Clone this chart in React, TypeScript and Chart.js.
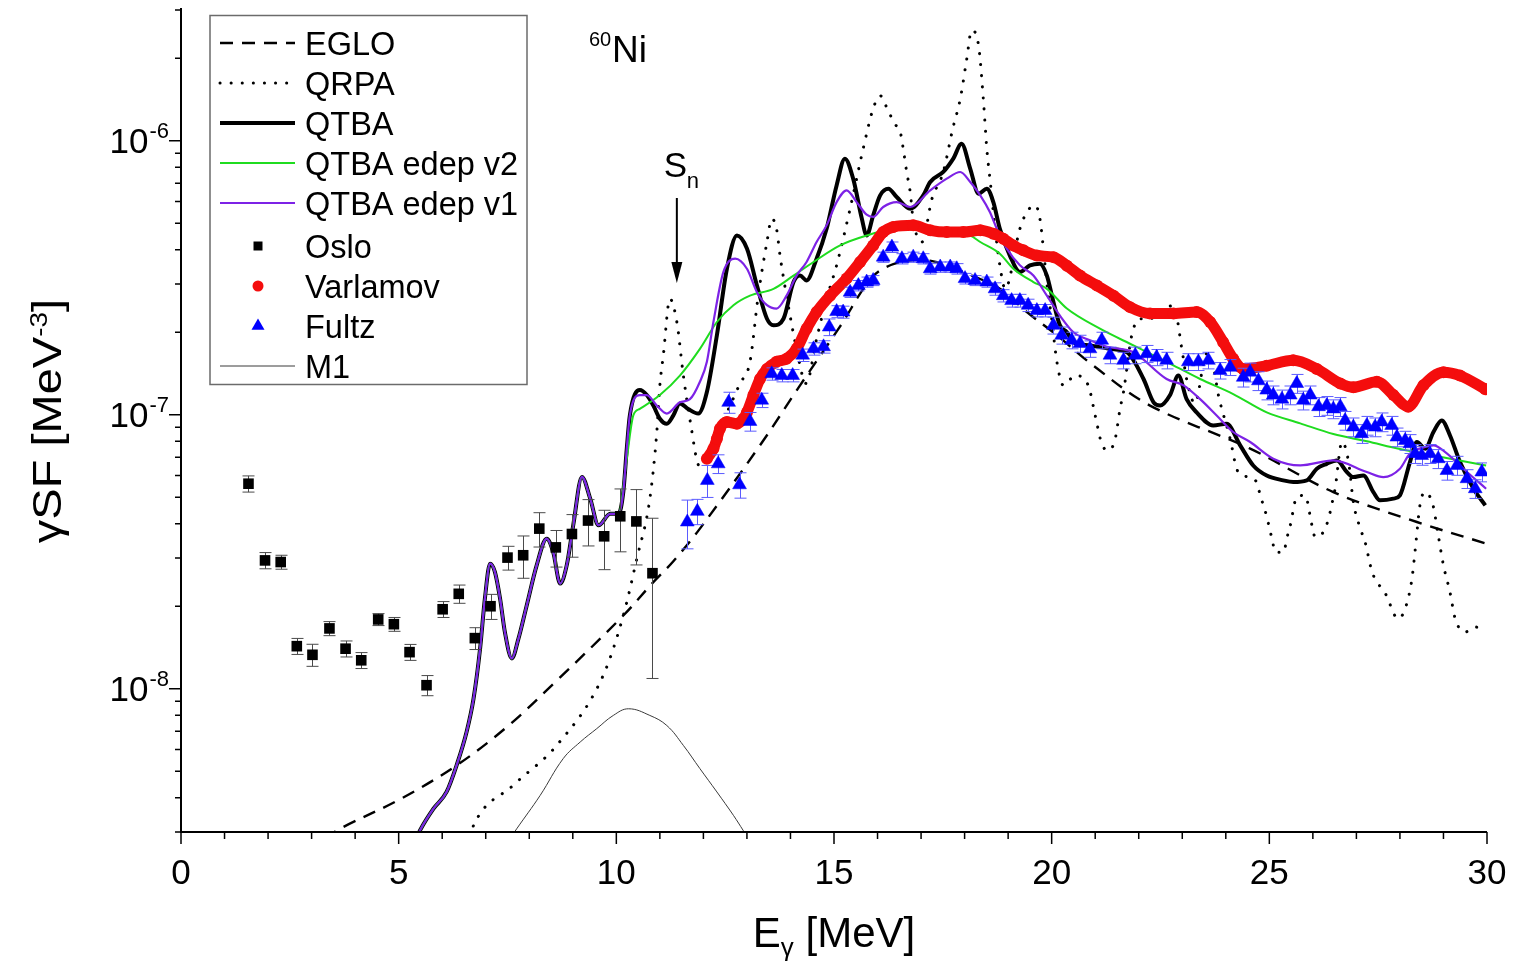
import React, { useEffect, useRef } from "react";
import { Chart, registerables } from "chart.js";

Chart.register(...registerables);

const FONT = '"Liberation Sans", Arial, Helvetica, sans-serif';

// ---------------- data (E in MeV, gamma strength in MeV^-3) ----------------
// shared low-energy part of the three QTBA curves
const lowE = [5.35, 5.49, 5.8, 6.1, 6.33, 6.56, 6.72, 6.87, 6.98, 7.1, 7.21, 7.33, 7.44, 7.6, 7.75, 7.94, 8.17, 8.4, 8.55, 8.71, 8.86, 9.01, 9.21, 9.4, 9.59, 9.86, 10.05];
const lowY = [2.72e-9, 3.04e-9, 3.65e-9, 4.2e-9, 5.25e-9, 6.95e-9, 9.2e-9, 1.4e-8, 2.13e-8, 2.86e-8, 2.67e-8, 2.13e-8, 1.61e-8, 1.29e-8, 1.52e-8, 2.01e-8, 2.82e-8, 3.53e-8, 3.15e-8, 2.42e-8, 2.82e-8, 3.95e-8, 5.93e-8, 4.94e-8, 3.95e-8, 4.35e-8, 4.35e-8];

const qtbaE = [10.16, 10.24, 10.31, 10.54, 10.7, 10.85, 11.0, 11.16, 11.31, 11.46, 11.65, 11.88, 12.08, 12.31, 12.54, 12.77, 13.0, 13.23, 13.46, 13.61, 13.84, 14.07, 14.22, 14.37, 14.6, 14.83, 15.06, 15.25, 15.44, 15.64, 15.75, 15.9, 16.06, 16.25, 16.44, 16.75, 17.05, 17.21, 17.51, 17.74, 17.93, 18.13, 18.32, 18.51, 18.66, 18.81, 19.04, 19.27, 19.5, 19.73, 19.89, 20.04, 20.19, 20.35, 20.5, 20.88, 21.34, 21.73, 22.11, 22.34, 22.49, 22.72, 22.91, 23.1, 23.33, 23.71, 24.02, 24.33, 24.63, 24.94, 25.32, 25.55, 25.86, 26.09, 26.32, 26.55, 26.78, 26.93, 27.16, 27.39, 27.54, 27.85, 28.0, 28.23, 28.39, 28.58, 28.77, 28.96, 29.15, 29.38, 29.69, 29.96];
const qtbaY = [5.22e-8, 7.52e-8, 9.94e-8, 1.23e-7, 1.18e-7, 1.08e-7, 9.67e-8, 9.27e-8, 9.94e-8, 1.1e-7, 1.05e-7, 1.01e-7, 1.21e-7, 1.95e-7, 3.41e-7, 4.51e-7, 4.04e-7, 2.96e-7, 2.24e-7, 2.12e-7, 2.24e-7, 3.05e-7, 3.22e-7, 3.09e-7, 3.71e-7, 4.77e-7, 6.87e-7, 8.6e-7, 7.27e-7, 5.19e-7, 4.51e-7, 5.34e-7, 6.32e-7, 6.68e-7, 6.23e-7, 5.65e-7, 6.32e-7, 7.07e-7, 7.69e-7, 8.6e-7, 9.75e-7, 7.9e-7, 6.41e-7, 6.68e-7, 5.97e-7, 4.77e-7, 3.81e-7, 3.32e-7, 3.51e-7, 3.56e-7, 3.22e-7, 2.58e-7, 2.12e-7, 2.0e-7, 1.84e-7, 1.79e-7, 1.74e-7, 1.69e-7, 1.35e-7, 1.11e-7, 1.08e-7, 1.18e-7, 1.39e-7, 1.14e-7, 1.02e-7, 9.14e-8, 9.27e-8, 7.73e-8, 6.53e-8, 6.0e-8, 5.76e-8, 5.68e-8, 5.76e-8, 6.35e-8, 6.62e-8, 6.81e-8, 6.18e-8, 5.92e-8, 6.0e-8, 5.22e-8, 4.87e-8, 4.94e-8, 5.08e-8, 6.72e-8, 7.95e-8, 7.52e-8, 8.65e-8, 9.53e-8, 8.4e-8, 6.72e-8, 5.37e-8, 4.67e-8];

const v1E = [10.16, 10.24, 10.31, 10.54, 10.7, 10.93, 11.16, 11.46, 11.69, 11.92, 12.08, 12.23, 12.46, 12.73, 13.0, 13.23, 13.46, 13.68, 13.91, 14.14, 14.37, 14.6, 14.83, 15.06, 15.29, 15.52, 15.75, 15.9, 16.13, 16.44, 16.75, 17.21, 17.59, 17.9, 18.13, 18.36, 18.58, 18.74, 18.97, 19.27, 19.58, 19.89, 20.19, 20.5, 20.88, 21.27, 21.57, 21.88, 22.64, 23.03, 23.41, 23.79, 24.17, 24.56, 25.09, 25.71, 26.47, 27.24, 27.62, 28.0, 28.23, 28.58, 28.77, 29.04, 29.54, 29.98];
const v1Y = [5.22e-8, 7.52e-8, 9.94e-8, 1.18e-7, 1.18e-7, 1.08e-7, 1.01e-7, 1.11e-7, 1.14e-7, 1.32e-7, 1.56e-7, 2.18e-7, 3.32e-7, 3.71e-7, 3.41e-7, 2.8e-7, 2.51e-7, 2.44e-7, 2.72e-7, 3.22e-7, 3.61e-7, 4.27e-7, 4.91e-7, 5.97e-7, 6.59e-7, 5.97e-7, 5.37e-7, 5.27e-7, 5.73e-7, 5.97e-7, 5.73e-7, 6.59e-7, 7.27e-7, 7.69e-7, 7.07e-7, 6.32e-7, 5.49e-7, 4.77e-7, 4.04e-7, 3.51e-7, 3.22e-7, 2.72e-7, 2.3e-7, 2.0e-7, 1.87e-7, 1.77e-7, 1.74e-7, 1.69e-7, 1.35e-7, 1.28e-7, 1.14e-7, 9.94e-8, 8.65e-8, 7.95e-8, 6.91e-8, 6.53e-8, 6.81e-8, 6.18e-8, 5.92e-8, 6.35e-8, 7.21e-8, 7.62e-8, 7.73e-8, 7.31e-8, 6.18e-8, 5.37e-8];

const v2E = [10.24, 10.39, 10.54, 11.0, 11.46, 11.92, 12.31, 12.69, 13.07, 13.61, 14.07, 14.53, 15.14, 15.75, 16.29, 16.98, 17.55, 18.13, 18.36, 18.81, 19.12, 19.58, 19.89, 20.35, 21.11, 21.88, 22.64, 23.41, 24.17, 24.94, 25.71, 26.47, 27.24, 28.0, 28.77, 29.98];
const v2Y = [6.91e-8, 9.94e-8, 1.05e-7, 1.18e-7, 1.39e-7, 1.74e-7, 2.18e-7, 2.51e-7, 2.72e-7, 2.88e-7, 3.22e-7, 3.61e-7, 4.15e-7, 4.51e-7, 4.73e-7, 4.77e-7, 4.66e-7, 4.51e-7, 4.27e-7, 3.87e-7, 3.41e-7, 3.05e-7, 2.88e-7, 2.44e-7, 2.06e-7, 1.79e-7, 1.56e-7, 1.35e-7, 1.19e-7, 1.02e-7, 9.3e-8, 8.5e-8, 8.0e-8, 7.5e-8, 7.1e-8, 6.53e-8];

const egloE = [3.3, 3.73, 5.03, 6.33, 7.49, 8.63, 10.16, 10.85, 11.31, 11.92, 13.3, 14.22, 15.14, 15.9, 16.5, 17.2, 18.0, 18.81, 19.43, 20.12, 20.96, 22.26, 24.56, 26.47, 28.39, 30.0];
const egloY = [2.85e-9, 3.13e-9, 3.95e-9, 5.25e-9, 7.26e-9, 1.07e-8, 1.85e-8, 2.45e-8, 2.92e-8, 3.84e-8, 7.73e-8, 1.28e-7, 2.1e-7, 3.2e-7, 3.6e-7, 3.65e-7, 3.3e-7, 2.88e-7, 2.37e-7, 1.95e-7, 1.51e-7, 1.08e-7, 7.52e-8, 5.22e-8, 4.06e-8, 3.38e-8];

const qrpaE = [6.64, 6.72, 7.63, 8.63, 9.7, 10.16, 10.47, 10.77, 10.93, 11.0, 11.08, 11.23, 11.39, 11.54, 11.7, 11.91, 12.23, 12.54, 12.84, 13.07, 13.26, 13.46, 13.57, 13.68, 13.76, 13.91, 14.14, 14.36, 14.6, 14.83, 15.06, 15.37, 15.67, 15.9, 16.06, 16.24, 16.4, 16.52, 16.59, 16.67, 16.75, 16.82, 17.02, 17.25, 17.51, 17.73, 17.9, 18.05, 18.16, 18.32, 18.43, 18.51, 18.59, 18.7, 18.81, 18.93, 19.27, 19.43, 19.62, 19.73, 19.81, 19.89, 20.0, 20.12, 20.27, 20.54, 20.84, 21.0, 21.15, 21.3, 21.46, 21.57, 21.65, 21.84, 22.03, 22.26, 22.56, 22.8, 22.99, 23.1, 23.29, 23.56, 23.71, 23.83, 24.1, 24.25, 24.4, 24.71, 24.79, 24.9, 24.98, 25.06, 25.14, 25.33, 25.4, 25.48, 25.63, 25.82, 25.98, 26.05, 26.24, 26.36, 26.43, 26.51, 26.67, 26.82, 26.93, 27.09, 27.2, 27.36, 27.67, 27.96, 28.12, 28.27, 28.35, 28.46, 28.57, 28.76, 28.88, 29.0, 29.15, 29.27, 29.5, 29.73, 29.96];
const qrpaY = [2.88e-9, 3.17e-9, 4.44e-9, 6.21e-9, 1.12e-8, 1.85e-8, 2.98e-8, 4.94e-8, 8.65e-8, 1.28e-7, 1.65e-7, 2.65e-7, 2.18e-7, 1.39e-7, 9.41e-8, 6.5e-8, 8.17e-8, 1.02e-7, 1.3e-7, 1.56e-7, 2.72e-7, 4.27e-7, 5.19e-7, 4.77e-7, 3.81e-7, 2.72e-7, 1.74e-7, 1.3e-7, 1.89e-7, 2.65e-7, 3.51e-7, 5.65e-7, 9.35e-7, 1.31e-6, 1.46e-6, 1.29e-6, 1.15e-6, 1.08e-6, 9.35e-7, 7.69e-7, 6.5e-7, 5.12e-7, 4.27e-7, 6.14e-7, 7.69e-7, 1.11e-6, 1.42e-6, 1.99e-6, 2.53e-6, 2.23e-6, 1.42e-6, 9.35e-7, 7.07e-7, 4.77e-7, 3.51e-7, 2.88e-7, 4.77e-7, 5.49e-7, 5.81e-7, 5.19e-7, 4.04e-7, 3.01e-7, 2.24e-7, 1.56e-7, 1.28e-7, 1.39e-7, 1.28e-7, 9.94e-8, 7.84e-8, 7.41e-8, 8.17e-8, 1.05e-7, 1.21e-7, 1.95e-7, 2.24e-7, 2.24e-7, 2.44e-7, 2.5e-7, 1.74e-7, 1.35e-7, 1.1e-7, 1.67e-7, 1.51e-7, 1.18e-7, 8.17e-8, 6.35e-8, 6.0e-8, 5.68e-8, 5.08e-8, 4.48e-8, 4.0e-8, 3.53e-8, 3.15e-8, 3.15e-8, 3.53e-8, 3.94e-8, 5.01e-8, 5.08e-8, 3.94e-8, 3.58e-8, 3.73e-8, 4.17e-8, 4.67e-8, 5.37e-8, 7.97e-8, 6.72e-8, 4.8e-8, 3.84e-8, 3.43e-8, 2.67e-8, 2.22e-8, 1.8e-8, 1.96e-8, 2.48e-8, 3.2e-8, 4.67e-8, 5.22e-8, 4.67e-8, 3.63e-8, 2.82e-8, 2.25e-8, 1.8e-8, 1.61e-8, 1.68e-8, 1.63e-8];

const m1E = [7.6, 7.71, 8.25, 8.78, 9.17, 9.55, 9.93, 10.28, 10.77, 11.16, 11.54, 11.92, 12.31, 12.69, 12.92, 13.0];
const m1Y = [2.9e-9, 3.08e-9, 4.08e-9, 5.56e-9, 6.39e-9, 7.15e-9, 7.99e-9, 8.45e-9, 7.99e-9, 7.34e-9, 6.21e-9, 5.11e-9, 4.2e-9, 3.45e-9, 3.03e-9, 2.9e-9];

const osloE = [1.55, 1.93, 2.29, 2.66, 3.02, 3.41, 3.78, 4.14, 4.53, 4.89, 5.25, 5.64, 6.01, 6.38, 6.75, 7.11, 7.5, 7.86, 8.23, 8.61, 8.98, 9.35, 9.72, 10.09, 10.46, 10.83];
const osloY = [5.6e-8, 2.94e-8, 2.9e-8, 1.43e-8, 1.33e-8, 1.66e-8, 1.4e-8, 1.27e-8, 1.79e-8, 1.72e-8, 1.36e-8, 1.03e-8, 1.95e-8, 2.22e-8, 1.53e-8, 2.0e-8, 3.01e-8, 3.07e-8, 3.84e-8, 3.28e-8, 3.67e-8, 4.11e-8, 3.6e-8, 4.26e-8, 4.08e-8, 2.64e-8];
const osloErr = [3.8e-9, 2.0e-9, 1.7e-9, 9.6e-10, 1.23e-9, 9.8e-10, 9.4e-10, 8.5e-10, 9.0e-10, 1.0e-9, 9.1e-10, 8.7e-10, 1.3e-9, 1.7e-9, 1.4e-9, 2.1e-9, 3.0e-9, 5.4e-9, 5.5e-9, 5.0e-9, 6.5e-9, 7.9e-9, 8.8e-9, 1.1e-8, 1.25e-8, 1.55e-8];

const varE = [12.08, 12.23, 12.31, 12.38, 12.54, 12.77, 12.92, 13.0, 13.15, 13.3, 13.46, 13.68, 13.91, 14.14, 14.37, 14.6, 14.91, 15.29, 15.6, 15.9, 16.13, 16.36, 16.82, 17.21, 17.59, 17.97, 18.36, 18.66, 18.89, 19.12, 19.35, 19.66, 20.04, 20.35, 20.65, 21.04, 21.42, 21.8, 22.26, 22.8, 23.33, 23.64, 23.94, 24.17, 24.4, 24.94, 25.55, 26.09, 26.63, 26.93, 27.47, 27.85, 28.19, 28.54, 29.0, 29.38, 29.96];
const varY = [6.91e-8, 7.52e-8, 8.17e-8, 8.89e-8, 9.41e-8, 9.27e-8, 9.67e-8, 1.02e-7, 1.18e-7, 1.35e-7, 1.47e-7, 1.56e-7, 1.6e-7, 1.74e-7, 2.06e-7, 2.37e-7, 2.72e-7, 3.14e-7, 3.61e-7, 4.15e-7, 4.64e-7, 4.84e-7, 4.91e-7, 4.71e-7, 4.64e-7, 4.64e-7, 4.71e-7, 4.58e-7, 4.39e-7, 4.15e-7, 3.98e-7, 3.81e-7, 3.76e-7, 3.5e-7, 3.22e-7, 2.96e-7, 2.72e-7, 2.47e-7, 2.34e-7, 2.34e-7, 2.37e-7, 2.18e-7, 1.84e-7, 1.6e-7, 1.47e-7, 1.51e-7, 1.58e-7, 1.47e-7, 1.3e-7, 1.26e-7, 1.32e-7, 1.18e-7, 1.07e-7, 1.28e-7, 1.43e-7, 1.39e-7, 1.24e-7];

const fultzE = [11.63, 11.86, 12.09, 12.34, 12.58, 12.83, 13.07, 13.34, 13.57, 13.8, 14.05, 14.28, 14.53, 14.76, 14.89, 15.06, 15.21, 15.37, 15.56, 15.75, 15.9, 16.13, 16.33, 16.56, 16.82, 17.05, 17.21, 17.44, 17.67, 17.82, 18.01, 18.24, 18.51, 18.7, 18.89, 19.08, 19.27, 19.46, 19.66, 19.85, 20.04, 20.23, 20.46, 20.65, 20.88, 21.15, 21.34, 21.65, 21.92, 22.18, 22.41, 22.64, 23.14, 23.37, 23.6, 23.87, 24.1, 24.4, 24.56, 24.75, 24.94, 25.09, 25.29, 25.48, 25.63, 25.78, 25.94, 26.13, 26.32, 26.47, 26.63, 26.74, 26.93, 27.12, 27.24, 27.43, 27.58, 27.81, 27.93, 28.12, 28.23, 28.35, 28.5, 28.69, 28.88, 29.08, 29.31, 29.54, 29.73, 29.88];
const fultzY = [4.06e-8, 4.44e-8, 5.76e-8, 6.62e-8, 1.11e-7, 5.55e-8, 9.45e-8, 1.13e-7, 1.41e-7, 1.39e-7, 1.39e-7, 1.65e-7, 1.74e-7, 1.77e-7, 2.09e-7, 2.38e-7, 2.37e-7, 2.8e-7, 2.96e-7, 3.05e-7, 3.09e-7, 3.76e-7, 4.09e-7, 3.71e-7, 3.76e-7, 3.71e-7, 3.41e-7, 3.46e-7, 3.46e-7, 3.41e-7, 3.14e-7, 3.09e-7, 3.05e-7, 2.88e-7, 2.72e-7, 2.61e-7, 2.61e-7, 2.51e-7, 2.4e-7, 2.4e-7, 2.12e-7, 1.95e-7, 1.87e-7, 1.82e-7, 1.74e-7, 1.87e-7, 1.65e-7, 1.58e-7, 1.65e-7, 1.67e-7, 1.62e-7, 1.58e-7, 1.56e-7, 1.56e-7, 1.58e-7, 1.45e-7, 1.49e-7, 1.37e-7, 1.43e-7, 1.33e-7, 1.23e-7, 1.18e-7, 1.14e-7, 1.18e-7, 1.3e-7, 1.13e-7, 1.18e-7, 1.07e-7, 1.08e-7, 1.05e-7, 1.07e-7, 9.53e-8, 9.02e-8, 8.53e-8, 9.14e-8, 9.02e-8, 9.41e-8, 9.14e-8, 8.29e-8, 8.06e-8, 7.84e-8, 7.21e-8, 7.1e-8, 7.21e-8, 6.91e-8, 6.26e-8, 6.53e-8, 5.84e-8, 5.37e-8, 6.18e-8];
const fultzErr = [8.2e-9, 4.7e-9, 7.7e-9, 5.2e-9, 9.8e-9, 5.9e-9, 7.4e-9, 6.8e-9, 7.3e-9, 7.2e-9, 7.2e-9, 8.6e-9, 9.0e-9, 9.2e-9, 1.46e-8, 1.2e-8, 1.2e-8, 1.2e-8, 1.3e-8, 1.3e-8, 1.3e-8, 1.6e-8, 1.8e-8, 1.6e-8, 1.6e-8, 1.6e-8, 1.5e-8, 1.5e-8, 1.5e-8, 1.5e-8, 1.4e-8, 1.3e-8, 1.3e-8, 1.5e-8, 1.4e-8, 1.4e-8, 1.4e-8, 1.3e-8, 1.25e-8, 1.25e-8, 1.5e-8, 1.4e-8, 1.3e-8, 1.3e-8, 1.2e-8, 1.3e-8, 1.15e-8, 1.1e-8, 1.15e-8, 1.2e-8, 1.1e-8, 1.1e-8, 1.1e-8, 1.1e-8, 1.1e-8, 1.0e-8, 1.0e-8, 1.08e-8, 1.13e-8, 1.05e-8, 9.7e-9, 9.3e-9, 9.0e-9, 9.3e-9, 1.03e-8, 8.9e-9, 9.3e-9, 8.5e-9, 8.5e-9, 8.3e-9, 8.5e-9, 7.5e-9, 7.1e-9, 6.7e-9, 7.2e-9, 7.1e-9, 7.4e-9, 7.2e-9, 6.5e-9, 6.4e-9, 6.2e-9, 5.7e-9, 5.6e-9, 5.7e-9, 5.5e-9, 4.9e-9, 5.2e-9, 4.6e-9, 4.2e-9, 4.9e-9];

// axis ticks / labels
const xMajorTicks = [0, 5, 10, 15, 20, 25, 30];
const xTickLabels = ["0", "5", "10", "15", "20", "25", "30"];
const xMinorTicks = [1, 2, 3, 4, 6, 7, 8, 9, 11, 12, 13, 14, 16, 17, 18, 19, 21, 22, 23, 24, 26, 27, 28, 29];
const yMajorTicks = [1e-8, 1e-7, 1e-6];
const yTickExponents = ["-8", "-7", "-6"];
const yMinorTicks = [3e-9, 4e-9, 5e-9, 6e-9, 7e-9, 8e-9, 9e-9, 2e-8, 3e-8, 4e-8, 5e-8, 6e-8, 7e-8, 8e-8, 9e-8, 2e-7, 3e-7, 4e-7, 5e-7, 6e-7, 7e-7, 8e-7, 9e-7, 2e-6, 3e-6];
const snEnergy = 11.39;

const GREEN = "#1fdc1f";
const PURPLE = "#7d22e6";
const RED = "#f40d0d";
const BLUE = "#0000ff";

const pts = (xs: number[], ys: number[]) => xs.map((x, i) => ({ x, y: ys[i] }));

const errorBarPlugin = {
  id: "errorBars",
  beforeDatasetDraw(chart: any, args: any) {
    const ds = chart.data.datasets[args.index];
    if (!ds.errY) return;
    const { ctx, chartArea: a } = chart;
    const xs = chart.scales.x;
    const ys = chart.scales.y;
    ctx.save();
    ctx.beginPath();
    ctx.rect(a.left, a.top, a.right - a.left, a.bottom - a.top);
    ctx.clip();
    ctx.strokeStyle = ds.errColor;
    ctx.lineWidth = 1;
    ctx.beginPath();
    ds.data.forEach((p: any, i: number) => {
      const e = ds.errY[i];
      const px = Math.round(xs.getPixelForValue(p.x)) + 0.5;
      const top = ys.getPixelForValue(p.y + e);
      const bot = ys.getPixelForValue(Math.max(p.y - e, 1e-12));
      ctx.moveTo(px, top);
      ctx.lineTo(px, bot);
      ctx.moveTo(px - ds.capHalf, top);
      ctx.lineTo(px + ds.capHalf, top);
      ctx.moveTo(px - ds.capHalf, bot);
      ctx.lineTo(px + ds.capHalf, bot);
    });
    ctx.stroke();
    ctx.restore();
  },
};

function drawMarker(ctx: CanvasRenderingContext2D, style: string, x: number, y: number, s: number, color: string) {
  ctx.fillStyle = color;
  ctx.beginPath();
  if (style === "rect") {
    ctx.rect(x - s / 2, y - s / 2, s, s);
  } else if (style === "circle") {
    ctx.arc(x, y, s / 2, 0, Math.PI * 2);
  } else {
    const r = s / Math.sqrt(3);
    ctx.moveTo(x, y - r);
    ctx.lineTo(x + s / 2, y + r / 2);
    ctx.lineTo(x - s / 2, y + r / 2);
    ctx.closePath();
  }
  ctx.fill();
}

const decorPlugin = {
  id: "decor",
  afterDraw(chart: any) {
    const { ctx, chartArea: a } = chart;
    const xs = chart.scales.x;
    const ys = chart.scales.y;
    ctx.save();
    ctx.strokeStyle = "#000";
    ctx.fillStyle = "#000";
    ctx.setLineDash([]);

    // axes
    ctx.lineWidth = 2;
    ctx.beginPath();
    ctx.moveTo(a.left, a.top - 2);
    ctx.lineTo(a.left, a.bottom);
    ctx.lineTo(a.right, a.bottom);
    ctx.stroke();

    // ticks
    ctx.lineWidth = 1.5;
    ctx.beginPath();
    xMajorTicks.forEach((v) => {
      const px = xs.getPixelForValue(v);
      ctx.moveTo(px, a.bottom);
      ctx.lineTo(px, a.bottom + 12);
    });
    xMinorTicks.forEach((v) => {
      const px = xs.getPixelForValue(v);
      ctx.moveTo(px, a.bottom);
      ctx.lineTo(px, a.bottom + 7);
    });
    yMajorTicks.forEach((v) => {
      const py = ys.getPixelForValue(v);
      ctx.moveTo(a.left, py);
      ctx.lineTo(a.left - 12, py);
    });
    yMinorTicks.forEach((v) => {
      const py = ys.getPixelForValue(v);
      ctx.moveTo(a.left, py);
      ctx.lineTo(a.left - 6, py);
    });
    ctx.stroke();

    // x tick labels
    ctx.font = `35px ${FONT}`;
    ctx.textAlign = "center";
    ctx.textBaseline = "alphabetic";
    xMajorTicks.forEach((v, i) => ctx.fillText(xTickLabels[i], xs.getPixelForValue(v), a.bottom + 52));

    // y tick labels  10^n
    yMajorTicks.forEach((v, i) => {
      const py = ys.getPixelForValue(v);
      ctx.font = `22px ${FONT}`;
      ctx.textAlign = "left";
      const ws = ctx.measureText(yTickExponents[i]).width;
      ctx.fillText(yTickExponents[i], 169 - ws, py - 3);
      ctx.font = `35px ${FONT}`;
      ctx.textAlign = "right";
      ctx.fillText("10", 169 - ws - 1, py + 12.5);
    });

    // x title: E_gamma [MeV]
    {
      const f1 = `42px ${FONT}`;
      const f2 = `26px ${FONT}`;
      ctx.textAlign = "left";
      ctx.font = f1;
      const wE = ctx.measureText("E").width;
      const wR = ctx.measureText(" [MeV]").width;
      ctx.font = f2;
      const wG = ctx.measureText("\u03b3").width;
      const total = wE + wG + wR;
      let x0 = (a.left + a.right) / 2 - total / 2;
      const base = 947;
      ctx.font = f1;
      ctx.fillText("E", x0, base);
      x0 += wE;
      ctx.font = f2;
      ctx.fillText("\u03b3", x0, base + 9);
      x0 += wG;
      ctx.font = f1;
      ctx.fillText(" [MeV]", x0, base);
    }

    // y title: gammaSF [MeV^-3]
    {
      ctx.save();
      ctx.translate(61, (a.top + a.bottom) / 2);
      ctx.rotate(-Math.PI / 2);
      ctx.scale(1, 0.85);
      const f1 = `47px ${FONT}`;
      const f2 = `28px ${FONT}`;
      ctx.textAlign = "left";
      ctx.font = f1;
      const w1 = ctx.measureText("\u03b3SF [MeV").width;
      const w3 = ctx.measureText("]").width;
      ctx.font = f2;
      const w2 = ctx.measureText("-3").width;
      let x0 = -(w1 + w2 + w3) / 2;
      ctx.font = f1;
      ctx.fillText("\u03b3SF [MeV", x0, 0);
      x0 += w1;
      ctx.font = f2;
      ctx.fillText("-3", x0, -17);
      x0 += w2;
      ctx.font = f1;
      ctx.fillText("]", x0, 0);
      ctx.restore();
    }

    // nucleus label 60Ni
    ctx.textAlign = "left";
    ctx.font = `20px ${FONT}`;
    ctx.fillText("60", 589, 46);
    ctx.font = `37px ${FONT}`;
    ctx.fillText("Ni", 612, 62);

    // S_n label with arrow
    const sx = xs.getPixelForValue(snEnergy);
    ctx.font = `35px ${FONT}`;
    ctx.fillText("S", sx - 13, 177);
    ctx.font = `22px ${FONT}`;
    ctx.fillText("n", sx + 10, 188);
    ctx.lineWidth = 2;
    ctx.beginPath();
    ctx.moveTo(sx, 198);
    ctx.lineTo(sx, 266);
    ctx.stroke();
    ctx.beginPath();
    ctx.moveTo(sx - 5.5, 262);
    ctx.lineTo(sx + 5.5, 262);
    ctx.lineTo(sx, 283);
    ctx.closePath();
    ctx.fill();

    // legend
    ctx.strokeStyle = "#6b6b6b";
    ctx.lineWidth = 1.5;
    ctx.strokeRect(210, 15.5, 317, 369);
    const rowY = [43, 83, 123, 163, 203, 246, 286, 326, 366];
    chart.data.datasets.forEach((ds: any, i: number) => {
      const y = rowY[i];
      if (ds.legendKind === "line") {
        ctx.save();
        ctx.strokeStyle = ds.borderColor;
        ctx.lineWidth = ds.borderWidth;
        ctx.lineCap = ds.borderCapStyle || "butt";
        ctx.setLineDash(ds.borderDash || []);
        ctx.beginPath();
        ctx.moveTo(220, y);
        ctx.lineTo(295, y);
        ctx.stroke();
        ctx.restore();
      } else {
        drawMarker(ctx, ds.legendMarker, 258, y, ds.legendSize, ds.backgroundColor);
      }
      ctx.fillStyle = "#000";
      ctx.font = `32.5px ${FONT}`;
      ctx.textAlign = "left";
      ctx.fillText(ds.label, 305, y + 11.5);
    });

    ctx.restore();
  },
};

export default function App() {
  const canvasRef = useRef<HTMLCanvasElement | null>(null);

  useEffect(() => {
    const canvas = canvasRef.current;
    if (!canvas) return;
    const lineBase = {
      showLine: true,
      pointRadius: 0,
      pointHoverRadius: 0,
      fill: false,
      cubicInterpolationMode: "monotone",
      borderJoinStyle: "round",
      legendKind: "line",
    };
    const datasets: any[] = [
      { ...lineBase, label: "EGLO", data: pts(egloE, egloY), cubicInterpolationMode: "default", tension: 0.35, borderColor: "#000", borderWidth: 2.4, borderDash: [13, 9], order: 8 },
      { ...lineBase, label: "QRPA", data: pts(qrpaE, qrpaY), borderColor: "#000", borderWidth: 3, borderDash: [0.1, 11], borderCapStyle: "round", order: 7 },
      { ...lineBase, label: "QTBA", data: pts([...lowE, ...qtbaE], [...lowY, ...qtbaY]), borderColor: "#000", borderWidth: 4, order: 6 },
      { ...lineBase, label: "QTBA edep v2", data: pts([...lowE, ...v2E], [...lowY, ...v2Y]), borderColor: GREEN, borderWidth: 2, order: 5 },
      { ...lineBase, label: "QTBA edep v1", data: pts([...lowE, ...v1E], [...lowY, ...v1Y]), borderColor: PURPLE, borderWidth: 2.2, order: 4 },
      {
        label: "Oslo", data: pts(osloE, osloY), showLine: false, pointStyle: "rect", pointRadius: 7.5, pointHoverRadius: 7.5,
        backgroundColor: "#000", borderColor: "#000", borderWidth: 0, errY: osloErr, errColor: "#4a4a4a", capHalf: 6,
        legendKind: "marker", legendMarker: "rect", legendSize: 9, order: 3,
      },
      {
        label: "Varlamov", data: pts(varE, varY), showLine: true, cubicInterpolationMode: "monotone", borderColor: RED, borderWidth: 11,
        pointStyle: "circle", pointRadius: 6, pointHoverRadius: 6, backgroundColor: RED, pointBackgroundColor: RED, pointBorderWidth: 0,
        legendKind: "marker", legendMarker: "circle", legendSize: 11, order: 2,
      },
      {
        label: "Fultz", data: pts(fultzE, fultzY), showLine: false, pointStyle: "triangle", pointRadius: 8, pointHoverRadius: 8,
        backgroundColor: BLUE, borderColor: BLUE, borderWidth: 0.5, errY: fultzErr, errColor: "#5b5bff", capHalf: 6,
        legendKind: "marker", legendMarker: "triangle", legendSize: 13, order: 1,
      },
      { ...lineBase, label: "M1", data: pts(m1E, m1Y), cubicInterpolationMode: "default", tension: 0.4, borderColor: "#3a3a3a", borderWidth: 1, order: 0 },
    ];

    const chart = new Chart(canvas, {
      type: "scatter",
      data: { datasets },
      options: {
        responsive: false,
        maintainAspectRatio: false,
        animation: false,
        devicePixelRatio: 1,
        events: [],
        layout: { padding: { left: 0, right: 26, top: 10, bottom: 0 } },
        plugins: { legend: { display: false }, tooltip: { enabled: false } },
        scales: {
          x: {
            type: "linear", min: 0, max: 30,
            grid: { display: false }, border: { display: false }, ticks: { display: false },
            afterFit: (s: any) => { s.height = 133; },
          },
          y: {
            type: "logarithmic", min: 3e-9, max: 3e-6,
            grid: { display: false }, border: { display: false }, ticks: { display: false },
            afterFit: (s: any) => { s.width = 181; },
          },
        },
      } as any,
      plugins: [errorBarPlugin, decorPlugin],
    });
    return () => chart.destroy();
  }, []);

  return (
    <div style={{ position: "absolute", left: 0, top: 0, width: 1513, height: 965, background: "#fff" }}>
      <canvas ref={canvasRef} width={1513} height={965} style={{ width: 1513, height: 965, display: "block" }} />
    </div>
  );
}
